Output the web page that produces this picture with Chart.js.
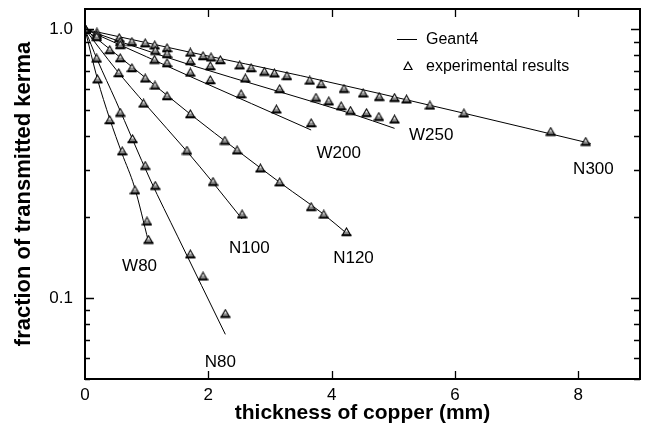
<!DOCTYPE html>
<html>
<head>
<meta charset="utf-8">
<script src="https://cdn.jsdelivr.net/npm/chart.js@4"></script>
<style>
html,body{margin:0;padding:0;background:#fff;}
#c{display:block;}
</style>
</head>
<body>
<canvas id="c" width="649" height="434"></canvas>
<script>
// ---- experimental results ----
const w80X = [0, 0.203, 0.401, 0.604, 0.81, 1.005, 1.03];
const w80Y = [1.0, 0.652, 0.46, 0.352, 0.252, 0.193, 0.165];
const n80X = [0, 0.19, 0.571, 0.771, 0.977, 1.14, 1.708, 1.914, 2.276];
const n80Y = [1.0, 0.779, 0.49, 0.391, 0.311, 0.262, 0.1456, 0.1205, 0.0875];
const n100X = [0, 0.547, 0.95, 1.654, 2.076, 2.547];
const n100Y = [1.0, 0.688, 0.53, 0.354, 0.271, 0.205];
const n120X = [0, 0.401, 0.571, 0.761, 0.977, 1.135, 1.33, 1.708, 2.268, 2.466, 2.844, 3.157, 3.667, 3.872, 4.24];
const n120Y = [1.0, 0.838, 0.782, 0.718, 0.657, 0.618, 0.565, 0.484, 0.3855, 0.355, 0.304, 0.27, 0.2185, 0.2047, 0.1763];
const w200X = [0, 0.19, 0.571, 1.128, 1.33, 1.708, 2.032, 2.531, 3.104, 3.667];
const w200Y = [1.0, 0.937, 0.875, 0.771, 0.749, 0.691, 0.648, 0.574, 0.504, 0.448];
const w250X = [0, 0.19, 0.571, 1.14, 1.33, 1.708, 2.032, 2.6, 3.157, 3.745, 3.953, 4.154, 4.305, 4.565, 4.765, 5.019];
const w250Y = [1.0, 0.953, 0.898, 0.833, 0.81, 0.763, 0.73, 0.657, 0.6, 0.557, 0.54, 0.518, 0.498, 0.489, 0.473, 0.4625];
const n300X = [0, 0.193, 0.555, 0.761, 0.977, 1.131, 1.33, 1.708, 1.914, 2.044, 2.195, 2.508, 2.693, 2.909, 3.071, 3.274, 3.644, 3.829, 4.2, 4.511, 4.771, 5.019, 5.214, 5.593, 6.144, 7.552, 8.12];
const n300Y = [1.0, 0.974, 0.929, 0.898, 0.888, 0.872, 0.852, 0.82, 0.796, 0.787, 0.769, 0.735, 0.718, 0.696, 0.686, 0.671, 0.645, 0.626, 0.601, 0.578, 0.561, 0.5565, 0.549, 0.521, 0.487, 0.416, 0.382];

// ---- Geant4 curves ----
const w80LineX = [0, 0.2, 0.4, 0.6, 0.8, 1.03];
const w80LineY = [1, 0.655, 0.465, 0.345, 0.26, 0.162];
const n80LineX = [0, 0.2, 0.5, 1.06, 1.5, 2.276];
const n80LineY = [1, 0.77, 0.542, 0.275, 0.17, 0.0733];
const n100LineX = [0, 0.5, 1, 1.65, 2.08, 2.547];
const n100LineY = [1, 0.71, 0.52, 0.352, 0.268, 0.197];
const n120LineX = [0, 0.5, 1, 1.7, 2.5, 3.2, 3.87, 4.27];
const n120LineY = [1, 0.81, 0.655, 0.485, 0.35, 0.265, 0.205, 0.172];
const w200LineX = [0, 1, 1.708, 2.7, 3.667];
const w200LineY = [1, 0.79, 0.667, 0.529, 0.422];
const w250LineX = [0, 0.6, 1.708, 3.0, 4.3, 5.02];
const w250LineY = [1, 0.895, 0.737, 0.60, 0.487, 0.428];
const n300LineX = [0, 1.7, 3.5, 6.1, 8.2];
const n300LineY = [1, 0.822, 0.672, 0.49, 0.376];

// ---- series labels (text and anchor in data units) ----
const seriesNames = ['W80', 'N80', 'N100', 'N120', 'W200', 'W250', 'N300'];
const labelX = [0.885, 2.195, 2.666, 4.354, 4.115, 5.615, 8.245];
const labelY = [0.1313, 0.0578, 0.1537, 0.1403, 0.3453, 0.4043, 0.302];

// ---- ticks ----
const xTicks = [0, 2, 4, 6, 8];
const yTickValues = [0.1, 1.0];
const yTickLabels = ['0.1', '1.0'];
const yMinorTicks = [0.05, 0.06, 0.07, 0.08, 0.09, 0.2, 0.3, 0.4, 0.5, 0.6, 0.7, 0.8, 0.9];

const FONT = '"Liberation Sans", Arial, Helvetica, sans-serif';

function pts(xs, ys) { return xs.map((x, i) => ({x: x, y: ys[i]})); }

// custom marker: outlined triangle with grey lower part and a base bar
function makeMarker(size) {
  const c = document.createElement('canvas');
  const w = size + 3, h = size + 2;
  c.width = w; c.height = h;
  const g = c.getContext('2d');
  const cx = w / 2;
  const top = 1, base = h - 2;
  g.beginPath();
  g.moveTo(cx, top);
  g.lineTo(cx + size / 2, base);
  g.lineTo(cx - size / 2, base);
  g.closePath();
  g.fillStyle = '#ffffff';
  g.fill();
  g.save();
  g.clip();
  g.fillStyle = '#8c8c8c';
  g.fillRect(0, top + (base - top) * 0.5, w, h);
  g.restore();
  g.strokeStyle = '#000';
  g.lineWidth = 1.1;
  g.stroke();
  g.fillStyle = '#000';
  g.fillRect(cx - size / 2 - 1, base - 0.5, size + 2, 1.8);
  return c;
}
const marker = makeMarker(8);

const pointSets = [[w80X, w80Y], [n80X, n80Y], [n100X, n100Y], [n120X, n120Y], [w200X, w200Y], [w250X, w250Y], [n300X, n300Y]];
const lineSets = [[w80LineX, w80LineY], [n80LineX, n80LineY], [n100LineX, n100LineY], [n120LineX, n120LineY], [w200LineX, w200LineY], [w250LineX, w250LineY], [n300LineX, n300LineY]];

const datasets = [];
lineSets.forEach((s, i) => {
  datasets.push({
    label: 'Geant4 ' + seriesNames[i],
    data: pts(s[0], s[1]),
    showLine: true,
    borderColor: '#000',
    borderWidth: 1,
    pointRadius: 0,
    fill: false,
    cubicInterpolationMode: 'monotone',
    order: 2
  });
});
pointSets.forEach((s, i) => {
  datasets.push({
    label: 'exp ' + seriesNames[i],
    data: pts(s[0], s[1]),
    showLine: false,
    pointStyle: marker,
    pointRadius: 5,
    order: 1
  });
});

const framePlugin = {
  id: 'frame',
  afterDatasetsDraw(chart) {
    const {ctx, chartArea: a, scales} = chart;
    ctx.save();
    ctx.strokeStyle = '#000';
    ctx.lineWidth = 2;
    ctx.strokeRect(a.left, a.top, a.right - a.left, a.bottom - a.top);
    ctx.lineWidth = 1.3;
    ctx.beginPath();
    xTicks.forEach(v => {
      if (v === 0) return;
      const px = Math.round(scales.x.getPixelForValue(v)) + 0.5;
      ctx.moveTo(px, a.bottom); ctx.lineTo(px, a.bottom - 8);
      ctx.moveTo(px, a.top); ctx.lineTo(px, a.top + 8);
    });
    yTickValues.forEach(v => {
      const py = Math.round(scales.y.getPixelForValue(v)) + 0.5;
      ctx.moveTo(a.left, py); ctx.lineTo(a.left + 9, py);
      ctx.moveTo(a.right, py); ctx.lineTo(a.right - 9, py);
    });
    yMinorTicks.forEach(v => {
      const py = Math.round(scales.y.getPixelForValue(v)) + 0.5;
      ctx.moveTo(a.left, py); ctx.lineTo(a.left + 5, py);
      ctx.moveTo(a.right, py); ctx.lineTo(a.right - 6, py);
    });
    ctx.stroke();

    // series labels
    ctx.fillStyle = '#000';
    ctx.font = '17px ' + FONT;
    ctx.textAlign = 'center';
    ctx.textBaseline = 'middle';
    seriesNames.forEach((n, i) => {
      ctx.fillText(n, scales.x.getPixelForValue(labelX[i]), scales.y.getPixelForValue(labelY[i]));
    });

    // legend
    ctx.font = '16px ' + FONT;
    ctx.textAlign = 'left';
    ctx.beginPath();
    ctx.lineWidth = 1;
    ctx.moveTo(397, 39.5); ctx.lineTo(417, 39.5);
    ctx.stroke();
    ctx.fillText('Geant4', 426, 40);
    ctx.beginPath();
    ctx.moveTo(408, 62); ctx.lineTo(412, 69.5); ctx.lineTo(404, 69.5); ctx.closePath();
    ctx.lineWidth = 1.2;
    ctx.stroke();
    ctx.fillText('experimental results', 426, 66.5);
    ctx.restore();
  }
};

new Chart(document.getElementById('c'), {
  type: 'scatter',
  data: {datasets: datasets},
  options: {
    responsive: false,
    animation: false,
    devicePixelRatio: 1,
    layout: {padding: {top: 9, right: 9, left: 0, bottom: 0}},
    plugins: {legend: {display: false}, tooltip: {enabled: false}},
    scales: {
      x: {
        type: 'linear',
        min: 0, max: 9,
        afterBuildTicks: s => { s.ticks = xTicks.map(v => ({value: v})); },
        afterFit: s => { s.height = 55; s.paddingLeft = 0; s.paddingRight = 0; },
        grid: {display: false, drawTicks: false},
        border: {display: false},
        ticks: {color: '#000', font: {size: 17, family: FONT}, padding: 6, maxRotation: 0},
        title: {display: true, text: 'thickness of copper (mm)', color: '#000',
                font: {size: 21, weight: 'bold', family: FONT}, padding: {top: 0, bottom: 8}}
      },
      y: {
        type: 'logarithmic',
        min: 0.05, max: 1.19,
        afterBuildTicks: s => { s.ticks = yTickValues.map(v => ({value: v})); },
        afterFit: s => { s.width = 85; s.paddingTop = 0; s.paddingBottom = 0; },
        grid: {display: false, drawTicks: false},
        border: {display: false},
        ticks: {color: '#000', font: {size: 17, family: FONT}, padding: 12,
                callback: (v) => { const i = yTickValues.indexOf(v); return i >= 0 ? yTickLabels[i] : ''; }},
        title: {display: true, text: 'fraction of transmitted kerma', color: '#000',
                font: {size: 22, weight: 'bold', family: FONT}, padding: {top: 11, bottom: 0}}
      }
    }
  },
  plugins: [framePlugin]
});
</script>
</body>
</html>
